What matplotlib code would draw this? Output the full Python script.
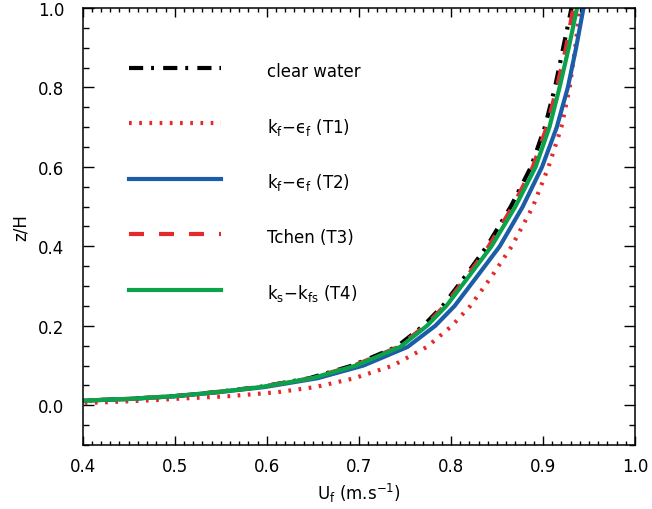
import matplotlib
matplotlib.use('Agg')
import matplotlib.pyplot as plt
from matplotlib.ticker import MultipleLocator, FormatStrFormatter

# vertical profiles of fluid velocity, z/H against U_f
z = [0.005, 0.007, 0.012, 0.016, 0.023, 0.033, 0.046, 0.068, 0.10, 0.147,
     0.20, 0.25, 0.32, 0.40, 0.50, 0.60, 0.70, 0.80, 0.90, 1.00]

u_clear = [0.30, 0.35, 0.403, 0.449, 0.499, 0.544, 0.592, 0.646, 0.693, 0.741,
           0.770, 0.791, 0.814, 0.839, 0.865, 0.887, 0.902, 0.913, 0.922, 0.931]
u_t1 = [0.38, 0.42, 0.47, 0.50, 0.56, 0.612, 0.653, 0.695, 0.737, 0.774,
        0.801, 0.821, 0.843, 0.866, 0.889, 0.906, 0.920, 0.929, 0.935, 0.940]
u_t2 = [0.30, 0.35, 0.405, 0.452, 0.502, 0.548, 0.598, 0.655, 0.705, 0.753,
        0.783, 0.804, 0.827, 0.853, 0.878, 0.899, 0.915, 0.927, 0.936, 0.944]
u_t3 = [0.30, 0.35, 0.403, 0.450, 0.500, 0.545, 0.593, 0.648, 0.695, 0.743,
        0.772, 0.793, 0.816, 0.841, 0.867, 0.889, 0.904, 0.915, 0.925, 0.933]
u_t4 = [0.30, 0.35, 0.404, 0.450, 0.500, 0.545, 0.594, 0.649, 0.697, 0.745,
        0.774, 0.795, 0.818, 0.844, 0.870, 0.892, 0.907, 0.918, 0.928, 0.937]

labels = ['clear water',
          'k$_{\\rm f}$\u2212\u03f5$_{\\rm f}$ (T1)',
          'k$_{\\rm f}$\u2212\u03f5$_{\\rm f}$ (T2)',
          'Tchen (T3)',
          'k$_{\\rm s}$\u2212k$_{\\rm fs}$ (T4)']

red = '#e52a2d'
blue = '#1c5daa'
green = '#0ba24a'

plt.rcParams['font.family'] = 'DejaVu Sans'
plt.rcParams['font.size'] = 12

fig = plt.figure(figsize=(6.52, 5.10), dpi=100)
ax = fig.add_axes([0.1268, 0.1255, 0.8472, 0.8569])

lw = 3
ax.plot(u_clear, z, color='k', lw=lw, dashes=(3.4, 1.9, 0.7, 2.2),
        dash_capstyle='butt', label=labels[0])
ax.plot(u_t1, z, color=red, lw=lw, dashes=(0.65, 1.8),
        dash_capstyle='butt', label=labels[1])
ax.plot(u_t2, z, color=blue, lw=lw, label=labels[2])
ax.plot(u_t3, z, color=red, lw=lw, dashes=(3.6, 3.6),
        dash_capstyle='butt', label=labels[3])
ax.plot(u_t4, z, color=green, lw=lw, label=labels[4])

ax.set_xlim(0.4, 1.0)
ax.set_ylim(-0.1, 1.0)
ax.set_xticks([0.4, 0.5, 0.6, 0.7, 0.8, 0.9, 1.0])
ax.set_yticks([0.0, 0.2, 0.4, 0.6, 0.8, 1.0])
ax.xaxis.set_minor_locator(MultipleLocator(0.01))
ax.yaxis.set_minor_locator(MultipleLocator(0.05))
ax.xaxis.set_major_formatter(FormatStrFormatter('%.1f'))
ax.yaxis.set_major_formatter(FormatStrFormatter('%.1f'))

ax.tick_params(which='both', direction='in', top=True, right=True, width=1)
ax.tick_params(axis='x', which='major', length=6.5, pad=9)
ax.tick_params(axis='x', which='minor', length=3)
ax.tick_params(axis='y', which='major', length=8, pad=13)
ax.tick_params(axis='y', which='minor', length=4.3)
for s in ax.spines.values():
    s.set_linewidth(1.1)

ax.set_xlabel(r'U$_{\rm f}$ (m.s$^{-1}$)', labelpad=4)
ax.set_ylabel('z/H', labelpad=6)

ax.legend(loc='upper left', bbox_to_anchor=(0.0838, 0.881), frameon=False,
          borderpad=0, borderaxespad=0, handlelength=5.5, handleheight=1.6,
          handletextpad=2.76, labelspacing=2.04, fontsize=12)

fig.savefig('out.png', dpi=100)
